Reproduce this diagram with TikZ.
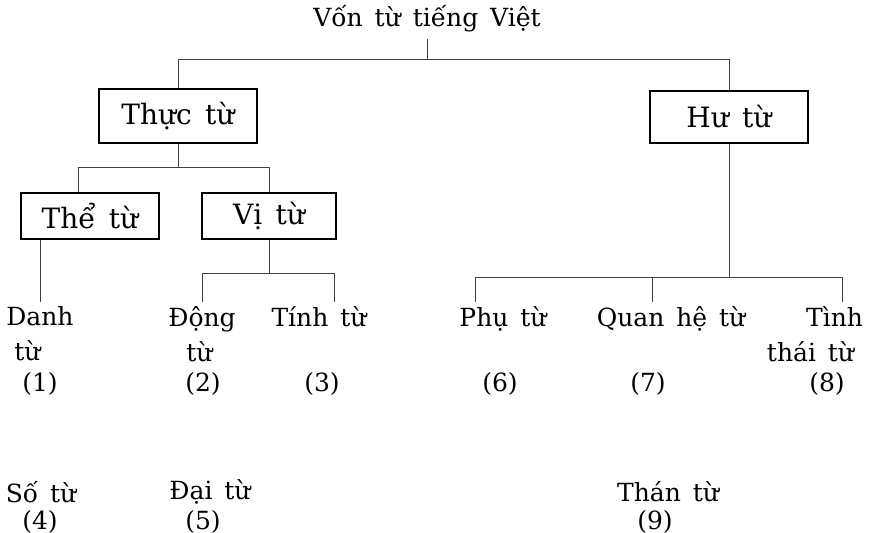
\documentclass[tikz,border=0pt]{standalone}
\usepackage{fontspec}
\setmainfont[WordSpace=1.5]{DejaVu Serif}
\usetikzlibrary{positioning}
\usetikzlibrary{calc}

\newcommand{\boxfont}{\fontsize{14}{17}\selectfont}
\newcommand{\leaffont}{\fontsize{12.5}{17.5}\selectfont}

\begin{document}
\begin{tikzpicture}[x=0.5pt,y=-0.5pt,
        every node/.style={font=\leaffont},
        loai/.style={draw,line width=1pt,font=\boxfont,minimum height=27pt},
        nho/.style={loai,minimum height=23pt},
        la/.style={anchor=north,inner sep=2pt},
        link/.style={black!75,line width=.5pt}]
        \useasboundingbox (0,0) rectangle (877,533);
        % levels of the buses
        \coordinate (b1) at (0,60);
        \coordinate (b2) at (0,168);
        \coordinate (b3) at (0,278);
        \coordinate (b4) at (0,274);
        % root and the two boxed classes
        \node (von) at (427,19) {Vốn từ tiếng Việt};
        \node [loai,minimum width=79pt] (thuc) at (178,116) {Thực từ};
        \node [loai,minimum width=79pt,minimum height=26pt] (hu) at (729,117) {Hư từ};
        \node [nho,minimum width=69pt] (the) at (90,216) {Thể từ};
        \node [nho,minimum width=67pt] (vi) at (269,216) {Vị từ};
        % the word classes
        \node [la,align=left] (danh) at (40,302) {Danh\\\hspace*{4pt}từ};
        \node [la,align=left] (dong) at (202,302) {Động\\\hspace*{9pt}từ};
        \node [la] (tinh) at (319,302) {Tính từ};
        \node [la] (phu) at (503,302) {Phụ từ};
        \node [la] (quan) at (671,302) {Quan hệ từ};
        \node [la,align=right] (tinhthai) at (815,302) {Tình\\thái từ\kern4.5pt};
        \node (so) at (41,492) {Số từ};
        \node (dai) at (210,492) {Đại từ};
        \node (than) at (668,492) {Thán từ};
        % numbers
        \node (n1) at (40,384) {(1)};
        \node (n2) at (203,384) {(2)};
        \node (n3) at (322,384) {(3)};
        \node (n6) at (500,384) {(6)};
        \node (n7) at (648,384) {(7)};
        \node (n8) at (827,384) {(8)};
        \node (n4) at (40,522) {(4)};
        \node (n5) at (203,522) {(5)};
        \node (n9) at (655,522) {(9)};
        % Now come the branches...
        \draw [link] (von.south) -- (von.south |- b1) -| (thuc.north);
        \draw [link] (von.south |- b1) -| (hu.north);
        \draw [link] (thuc.south) -- (thuc.south |- b2) -| ([xshift=-6pt]the.north);
        \draw [link] (thuc.south |- b2) -| (vi.north);
        \draw [link] (the.south -| danh.north) -- (danh.north);
        \draw [link] (vi.south) -- (vi.south |- b4) -| (dong.north);
        \draw [link] (vi.south |- b4) -| ([xshift=7.5pt]tinh.north);
        \draw [link] (hu.south) -- (hu.south |- b3) -| ([xshift=-14pt]phu.north);
        \draw [link] (hu.south |- b3) -| ([xshift=-9.5pt]quan.north);
        \draw [link] (hu.south |- b3) -| ([xshift=13.5pt]tinhthai.north);
\end{tikzpicture}
\end{document}
